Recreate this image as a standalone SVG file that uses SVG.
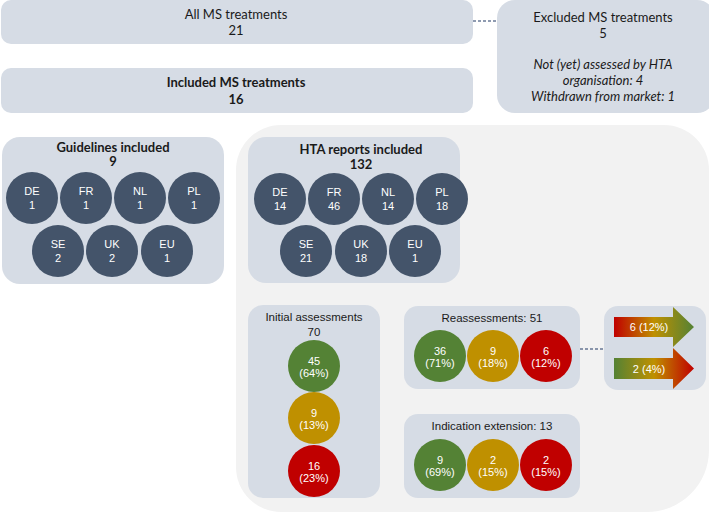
<svg xmlns="http://www.w3.org/2000/svg" width="709" height="512" viewBox="0 0 709 512">
<style>
.box{fill:#d6dce5}
.t{font-family:Lato,"Liberation Sans",sans-serif;font-size:13px;fill:#1a1a1a;text-anchor:middle}
.b{font-weight:bold}
.i{font-style:italic}
.a{font-family:"Liberation Sans",Arial,sans-serif;font-size:11.5px;fill:#1a1a1a;text-anchor:middle}
.c{font-family:"Liberation Sans",Arial,sans-serif;font-size:11px;fill:#fff;text-anchor:middle}
.navy{fill:#44546a}
.g{fill:#548235}
.y{fill:#bf9000}
.r{fill:#c00000}
.dash{stroke:#203864;stroke-width:1.2;stroke-dasharray:3,2;fill:none}
</style>
<defs>
<linearGradient id="rg" gradientUnits="userSpaceOnUse" x1="614" y1="0" x2="694" y2="0">
<stop offset="0" stop-color="#c00000"/><stop offset="0.5" stop-color="#bf9000"/><stop offset="1" stop-color="#548235"/>
</linearGradient>
<linearGradient id="gr" gradientUnits="userSpaceOnUse" x1="614" y1="0" x2="694" y2="0">
<stop offset="0" stop-color="#548235"/><stop offset="0.5" stop-color="#bf9000"/><stop offset="1" stop-color="#c00000"/>
</linearGradient>
</defs>
<rect width="709" height="512" fill="#fff"/>
<path id="panel" d="M281,125 H664 A45,45 0 0 1 709,170 V450 A62,62 0 0 1 647,512 H281 A45,45 0 0 1 236,467 V170 A45,45 0 0 1 281,125 Z" fill="#f2f2f2"/>

<g id="connectors">
<line class="dash" x1="473" y1="21" x2="497" y2="21"/>
<line class="dash" x1="580" y1="349" x2="604" y2="349"/>
</g>

<g id="all">
<rect class="box" x="1" y="0" width="472" height="44" rx="10"/>
<text class="t" x="236" y="18.5">All MS treatments</text>
<text class="t" x="236" y="35">21</text>
</g>
<g id="included">
<rect class="box" x="1" y="68" width="472" height="45" rx="10"/>
<text class="t b" x="236" y="87">Included MS treatments</text>
<text class="t b" x="236" y="104">16</text>
</g>
<g id="excluded">
<rect class="box" x="497" y="0" width="218" height="113" rx="18"/>
<text class="t" x="603" y="21.5">Excluded MS treatments</text>
<text class="t" x="603" y="38">5</text>
<text class="t i" x="603" y="68.5">Not (yet) assessed by HTA</text>
<text class="t i" x="603" y="84.5">organisation: 4</text>
<text class="t i" x="603" y="100.5">Withdrawn from market: 1</text>
</g>

<g id="guidelines">
<rect class="box" x="2" y="137" width="222" height="147" rx="18"/>
<text class="t b" x="113" y="151.5">Guidelines included</text>
<text class="t b" x="113" y="166">9</text>
<circle class="navy" cx="32" cy="198" r="26"/><text class="c" x="32" y="195">DE</text><text class="c" x="32" y="209">1</text>
<circle class="navy" cx="86" cy="198" r="26"/><text class="c" x="86" y="195">FR</text><text class="c" x="86" y="209">1</text>
<circle class="navy" cx="140" cy="198" r="26"/><text class="c" x="140" y="195">NL</text><text class="c" x="140" y="209">1</text>
<circle class="navy" cx="194" cy="198" r="26"/><text class="c" x="194" y="195">PL</text><text class="c" x="194" y="209">1</text>
<circle class="navy" cx="58" cy="251" r="26"/><text class="c" x="58" y="248">SE</text><text class="c" x="58" y="262">2</text>
<circle class="navy" cx="112" cy="251" r="26"/><text class="c" x="112" y="248">UK</text><text class="c" x="112" y="262">2</text>
<circle class="navy" cx="167" cy="251" r="26"/><text class="c" x="167" y="248">EU</text><text class="c" x="167" y="262">1</text>
</g>

<g id="hta">
<rect class="box" x="248" y="137" width="212" height="146" rx="18"/>
<text class="t b" x="361" y="154">HTA reports included</text>
<text class="t b" x="361" y="168.5">132</text>
<circle class="navy" cx="280" cy="199" r="26"/><text class="c" x="280" y="196">DE</text><text class="c" x="280" y="210">14</text>
<circle class="navy" cx="334" cy="199" r="26"/><text class="c" x="334" y="196">FR</text><text class="c" x="334" y="210">46</text>
<circle class="navy" cx="388" cy="199" r="26"/><text class="c" x="388" y="196">NL</text><text class="c" x="388" y="210">14</text>
<circle class="navy" cx="442" cy="199" r="26"/><text class="c" x="442" y="196">PL</text><text class="c" x="442" y="210">18</text>
<circle class="navy" cx="306" cy="251" r="26"/><text class="c" x="306" y="248">SE</text><text class="c" x="306" y="262">21</text>
<circle class="navy" cx="361" cy="251" r="26"/><text class="c" x="361" y="248">UK</text><text class="c" x="361" y="262">18</text>
<circle class="navy" cx="415" cy="251" r="26"/><text class="c" x="415" y="248">EU</text><text class="c" x="415" y="262">1</text>
</g>

<g id="initial">
<rect class="box" x="248" y="305" width="132" height="193" rx="15"/>
<text class="a" x="314" y="321">Initial assessments</text>
<text class="a" x="314" y="336">70</text>
<circle class="g" cx="314" cy="366" r="26"/><text class="c" x="314" y="364.5">45</text><text class="c" x="314" y="376.5">(64%)</text>
<circle class="y" cx="314" cy="418" r="26"/><text class="c" x="314" y="416.5">9</text><text class="c" x="314" y="428.5">(13%)</text>
<circle class="r" cx="314" cy="471" r="26"/><text class="c" x="314" y="469.5">16</text><text class="c" x="314" y="481.5">(23%)</text>
</g>

<g id="reassessments">
<rect class="box" x="404" y="306" width="176" height="83" rx="14"/>
<text class="a" x="492" y="321.5">Reassessments: 51</text>
<circle class="g" cx="440" cy="356" r="26"/><text class="c" x="440" y="354.5">36</text><text class="c" x="440" y="366.5">(71%)</text>
<circle class="y" cx="493" cy="356" r="26"/><text class="c" x="493" y="354.5">9</text><text class="c" x="493" y="366.5">(18%)</text>
<circle class="r" cx="546" cy="356" r="26"/><text class="c" x="546" y="354.5">6</text><text class="c" x="546" y="366.5">(12%)</text>
</g>

<g id="indication">
<rect class="box" x="404" y="414" width="176" height="84" rx="14"/>
<text class="a" x="492" y="430">Indication extension: 13</text>
<circle class="g" cx="440" cy="465" r="26"/><text class="c" x="440" y="463.5">9</text><text class="c" x="440" y="475.5">(69%)</text>
<circle class="y" cx="493" cy="465" r="26"/><text class="c" x="493" y="463.5">2</text><text class="c" x="493" y="475.5">(15%)</text>
<circle class="r" cx="546" cy="465" r="26"/><text class="c" x="546" y="463.5">2</text><text class="c" x="546" y="475.5">(15%)</text>
</g>

<g id="changes">
<rect class="box" x="604" y="306" width="102" height="84" rx="14"/>
<polygon fill="url(#rg)" points="614,317 673,317 673,307 694,327 673,347 673,337 614,337"/>
<text class="c" x="649" y="331">6 (12%)</text>
<polygon fill="url(#gr)" points="614,358 673,358 673,348 694,368.5 673,389 673,379 614,379"/>
<text class="c" x="649" y="372.5">2 (4%)</text>
</g>
</svg>
